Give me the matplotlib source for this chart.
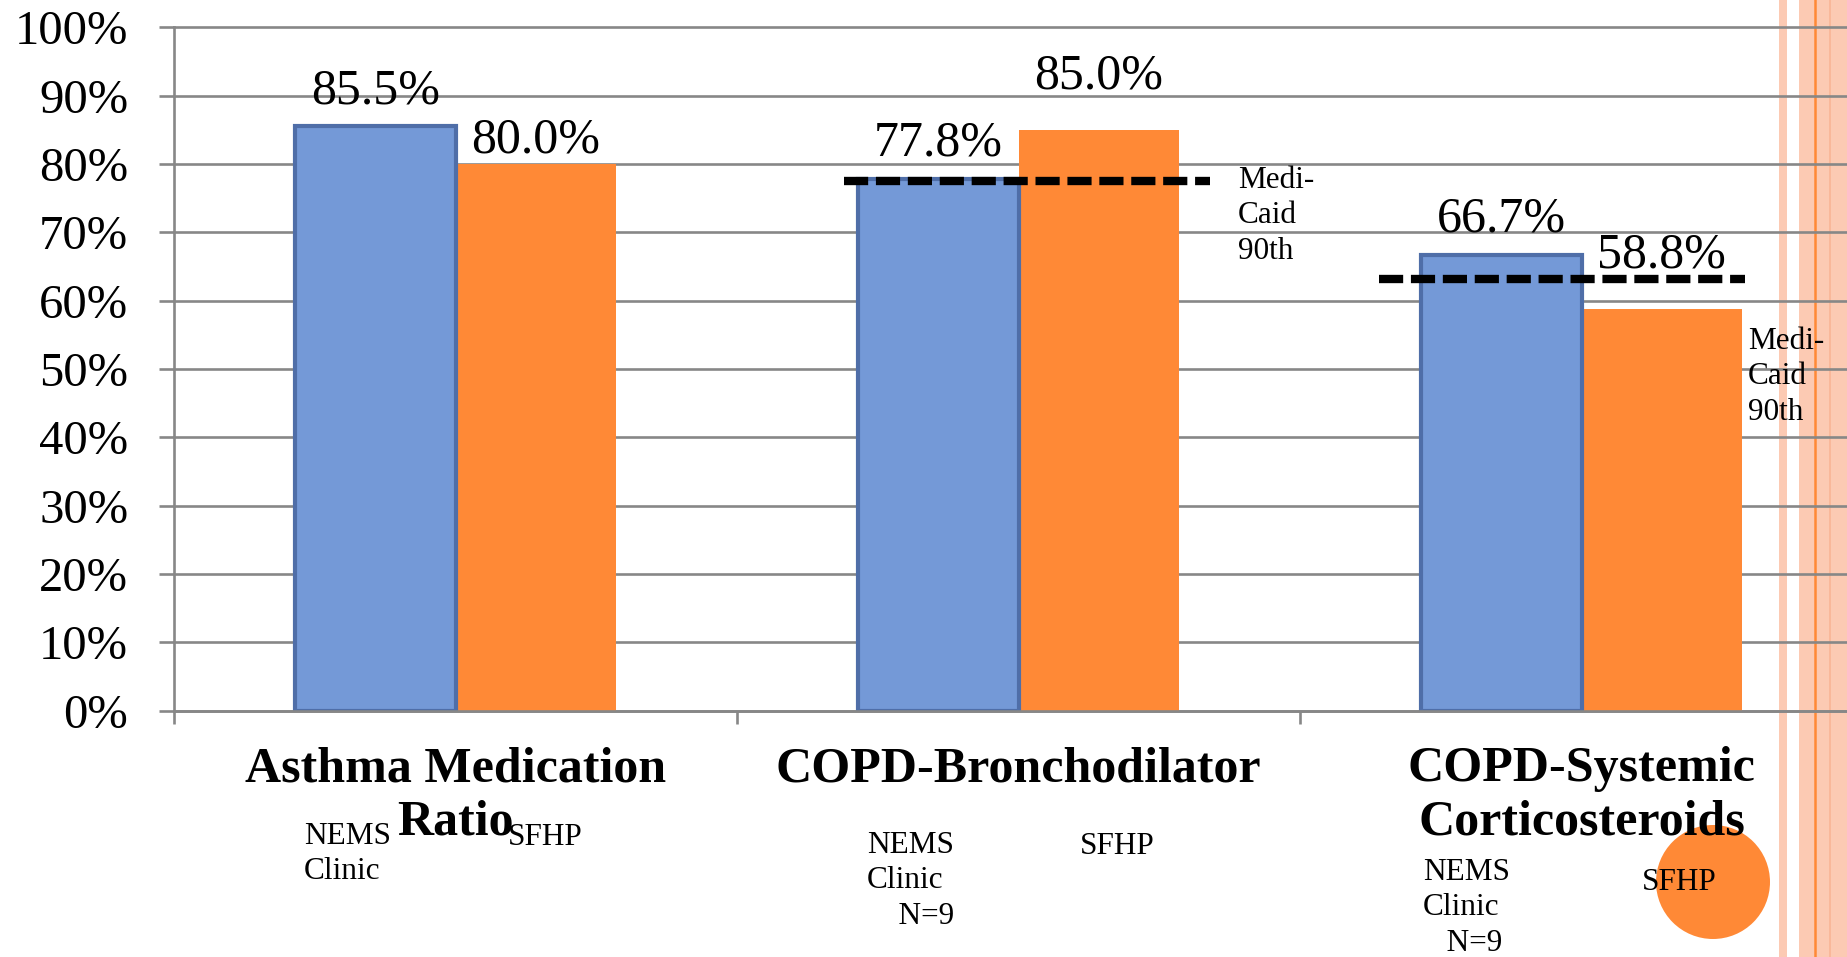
import matplotlib
matplotlib.use('Agg')
import matplotlib.pyplot as plt
import numpy as np
from matplotlib.lines import Line2D
from matplotlib.patches import Ellipse, Rectangle

# measure names and rates (percent)
categories = ['Asthma Medication\nRatio', 'COPD-Bronchodilator', 'COPD-Systemic\nCorticosteroids']
nems_clinic = [85.5, 77.8, 66.7]
sfhp = [80.0, 85.0, 58.8]
medicaid_90th = [np.nan, 77.5, 63.2]
y_ticks = list(range(0, 101, 10))

W, H = 1847, 957
BLUE = '#7499D7'
BLUE_EDGE = '#4F6EA8'
ORANGE = '#FF8936'
GRID = '#878787'
SALMON = '#FCCAB3'

plt.rcParams['font.family'] = ['Liberation Serif', 'DejaVu Serif']

fig = plt.figure(figsize=(W / 100, H / 100), dpi=100)


def fx(px):
    return px / W


def fy(py):
    return 1 - py / H


# striped border down the right side of the slide
for x0, x1 in [(1779, 1787), (1799, W)]:
    fig.add_artist(Rectangle((fx(x0), 0), fx(x1) - fx(x0), 1, transform=fig.transFigure,
                             facecolor=SALMON, edgecolor='none', zorder=-2))
fig.add_artist(Line2D([fx(1815)] * 2, [0, 1], color=ORANGE, lw=1.8,
                      transform=fig.transFigure, zorder=-1.5))
fig.add_artist(Line2D([fx(1830)] * 2, [0, 1], color='#F9B596', lw=1.2,
                      transform=fig.transFigure, zorder=-1.5))

# axes run past the right edge of the slide, as in the deck
ax = fig.add_axes([fx(174), fy(710.5), 1689 / W, 683.1 / H])
ax.patch.set_alpha(0)

x = np.arange(len(categories))
w = 0.285
ax.bar(x + w / 2, sfhp, w, color=ORANGE, zorder=2)
ax.bar(x - w / 2, nems_clinic, w, color=BLUE, edgecolor=BLUE_EDGE, linewidth=3, zorder=2)

# Medicaid 90th percentile benchmark lines
bench_span = [None, (-0.31, 0.34), (-0.36, 0.29)]
for i, val in enumerate(medicaid_90th):
    if np.isnan(val):
        continue
    lo, hi = bench_span[i]
    ax.plot([i + lo, i + hi], [val, val], color='black', lw=6, dashes=(2.9, 0.93), zorder=3)

# value labels, lifted by hand in the original
label_lift = [(16.5, 8), (17, 29.5), (16.5, 29.5)]
for i in x:
    for k, (series, dx) in enumerate([(nems_clinic, -w / 2), (sfhp, w / 2)]):
        v = series[i]
        ax.annotate(f'{v:.1f}%', xy=(i + dx, v), xytext=(0, label_lift[i][k]),
                    textcoords='offset points', ha='center', va='baseline', fontsize=36,
                    zorder=4)

for i, name in enumerate(categories):
    ax.annotate(name, xy=(i, 0), xycoords=('data', 'axes fraction'), xytext=(0, -25.6),
                textcoords='offset points', ha='center', va='top', fontsize=36,
                fontweight='bold', linespacing=1.2, annotation_clip=False)

ax.set_xlim(-0.5, 2.5)
ax.set_ylim(0, 100)
ax.set_yticks(y_ticks)
ax.set_yticklabels([f'{t}%' for t in y_ticks])
ax.set_xticks([-0.5, 0.5, 1.5, 2.5])
ax.set_xticklabels([])
ax.tick_params(axis='y', length=11, width=1.9, color=GRID, pad=22, labelsize=35)
ax.tick_params(axis='x', length=9.5, width=1.9, color=GRID)
ax.set_axisbelow(True)
ax.grid(axis='y', color=GRID, lw=1.9)
for line in ax.get_ygridlines():
    line.set_clip_on(False)
for side in ('top', 'right'):
    ax.spines[side].set_visible(False)
for side in ('left', 'bottom'):
    ax.spines[side].set_color(GRID)
    ax.spines[side].set_linewidth(1.9)

# orange callout disc behind the last SFHP tag
fig.add_artist(Ellipse((fx(1713), fy(882)), 114 / W, 114 / H, transform=fig.transFigure,
                       facecolor=ORANGE, edgecolor='none', zorder=-1))

small = dict(fontsize=22.5, ha='left', va='top', linespacing=1.3)
asc = 0.683 * 22.5 * 100 / 72
tags = [
    ('NEMS\nClinic', 304, 843),
    ('SFHP', 508, 844),
    ('NEMS\nClinic\n    N=9', 867, 852),
    ('SFHP', 1080, 853),
    ('NEMS\nClinic\n   N=9', 1423, 879),
    ('SFHP', 1642, 889),
    ('Medi-\nCaid\n90th', 1238, 187),
    ('Medi-\nCaid\n90th', 1748, 348),
]
for text, px, base in tags:
    fig.text(fx(px), fy(base - asc), text, zorder=3, **small)

fig.savefig('out.png', dpi=100)
